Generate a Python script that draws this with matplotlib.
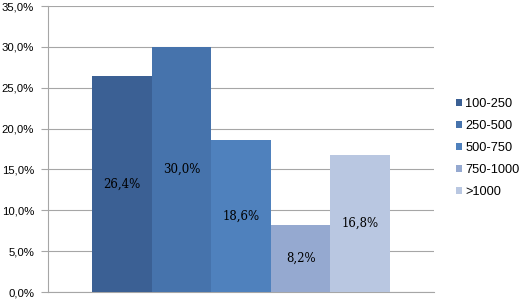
import numpy as np
import matplotlib.pyplot as plt

# Données
categories = ["100-250", "250-500", "500-750", "750-1000", ">1000"]
valeurs = [26.4, 30.0, 18.6, 8.2, 16.8]
couleurs = ["#3B6094", "#4673AC", "#4F81BD", "#95A9D0", "#B9C7E1"]
yticks = [0, 5, 10, 15, 20, 25, 30, 35]

fig = plt.figure(figsize=(5.2, 2.99), dpi=100)
ax = fig.add_axes([48 / 520, 7 / 299, 386 / 520, 286 / 299])

x = np.arange(len(valeurs))
bars = ax.bar(x, valeurs, width=1.0, color=couleurs, label=categories, zorder=3)

for xi, v in zip(x, valeurs):
    ax.text(xi, v / 2, f"{v:.1f}%".replace(".", ","), ha="center", va="center",
            fontsize=8.5, family="DejaVu Serif", color="black", zorder=4)

ax.set_xlim(-1.24, 5.24)
ax.set_ylim(0, 35)
ax.set_yticks(yticks)
ax.set_yticklabels([f"{t:.1f}%".replace(".", ",") for t in yticks],
                   fontsize=8.2, family="Liberation Sans")
ax.set_xticks([])
ax.yaxis.grid(True, color="#A6A6A6", linewidth=0.8, zorder=0)
ax.tick_params(axis="y", length=5, color="#A6A6A6", pad=5)
for s in ["top", "right"]:
    ax.spines[s].set_visible(False)
ax.spines["left"].set_color("#A6A6A6")
ax.spines["bottom"].set_color("#A6A6A6")

leg = fig.legend(handles=bars, labels=categories, loc="center left",
                 bbox_to_anchor=(444 / 520, 1 - 148 / 299), frameon=False,
                 prop={"family": "Liberation Sans", "size": 9.2},
                 handlelength=0.5, handleheight=0.5, handletextpad=0.25,
                 labelspacing=0.78)

fig.savefig("out.png", dpi=100)
